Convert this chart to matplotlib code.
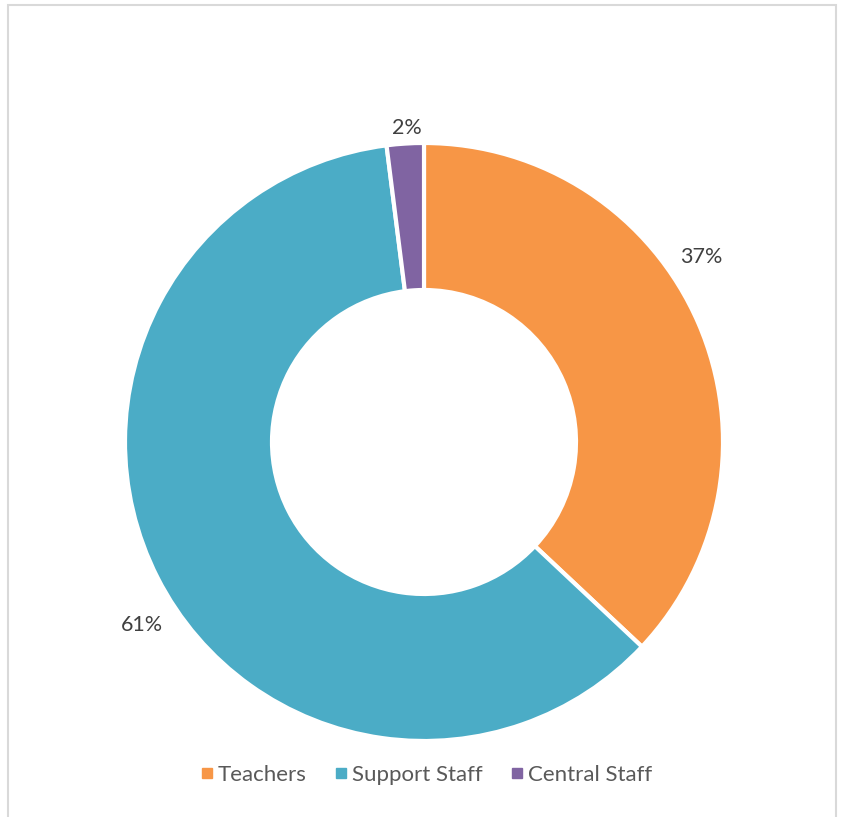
import matplotlib.pyplot as plt
from matplotlib.patches import Rectangle
from matplotlib.lines import Line2D

# staff split
categories = ['Teachers', 'Support Staff', 'Central Staff']
shares = [37, 61, 2]
colors = ['#F79646', '#4BACC6', '#8064A2']

W, H = 842, 817
cx, cy = 424, H - 442
outer_r = 299
ring_w = 147

plt.rcParams['font.family'] = ['Lato', 'DejaVu Sans']

fig = plt.figure(figsize=(W / 100, H / 100), dpi=100)
ax = fig.add_axes([0, 0, 1, 1])
ax.set_xlim(0, W)
ax.set_ylim(0, H)
ax.set_aspect('equal')
ax.axis('off')

# outer frame
ax.add_patch(Rectangle((7.5, -10), 828, H - 4.5 + 10, fill=False,
                       edgecolor='#D9D9D9', linewidth=1.5))

wedges, _ = ax.pie(shares, colors=colors, startangle=90, counterclock=False,
                   center=(cx, cy), radius=outer_r,
                   wedgeprops=dict(width=ring_w, edgecolor='white', linewidth=3))
ax.set_xlim(0, W)
ax.set_ylim(0, H)

# percentage labels (offsets from the ring centre)
label_offsets = [(277, 185), (-282, -183), (-17, 314)]
for val, (dx, dy) in zip(shares, label_offsets):
    ax.text(cx + dx, cy + dy, f'{val}%', ha='center', va='center',
            fontsize=15.5, color='#404040')

handles = [Line2D([], [], marker='s', linestyle='none', markersize=6.5,
                  markerfacecolor=c, markeredgecolor=c) for c in colors]
fig.legend(handles, categories, loc='center', bbox_to_anchor=(427 / W, 1 - 775 / H),
           ncol=3, frameon=False, fontsize=16, labelcolor='#595959',
           handlelength=0.45, handletextpad=0.25, columnspacing=1.35)

fig.savefig('out.png', dpi=100)
